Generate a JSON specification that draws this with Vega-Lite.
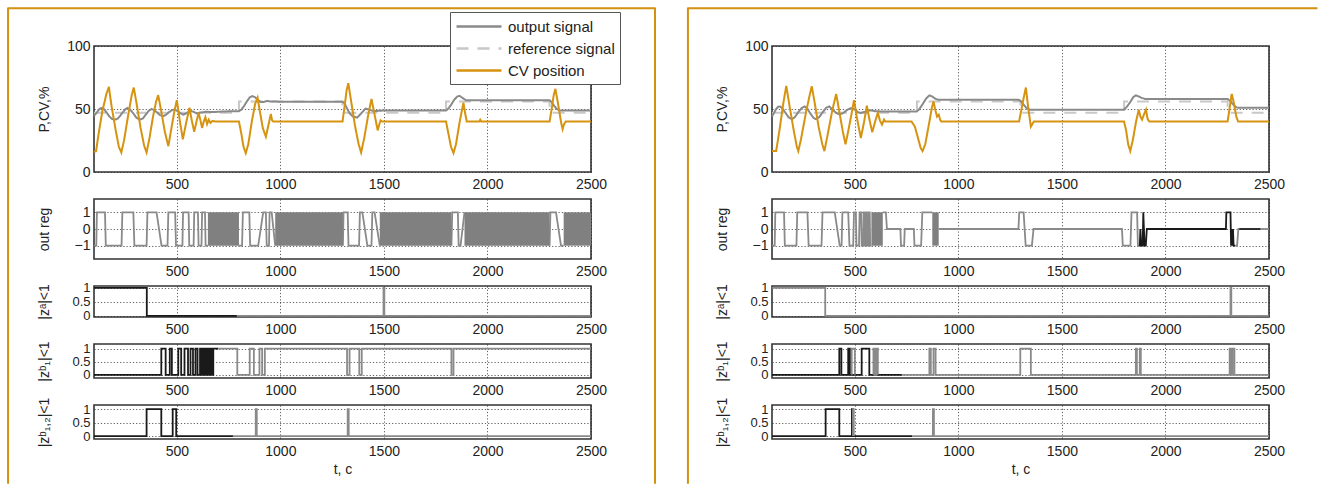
{
"$schema":"https://vega.github.io/schema/vega-lite/v6.json",
"padding":{"left":6,"top":6,"right":0,"bottom":0},
"background":"white",
"bounds":"flush",
"align":"each",
"columns":2,
"spacing":{"row":27,"column":181},
"resolve":{"scale":{"color":"independent","strokeDash":"independent"}},
"config":{
 "font":"Liberation Sans",
 "view":{"stroke":"#333333","strokeWidth":1.6},
 "axis":{"labelFont":"Liberation Sans","labelFontSize":14,"labelColor":"#222222","titleFont":"Liberation Sans","titleFontSize":14,"titleFontWeight":"normal","titleColor":"#222222","ticks":false,"domain":false,"grid":true,"gridColor":"#222222","gridDash":[1.2,2],"gridWidth":0.8,"gridOpacity":0.9,"labelOverlap":false},
 "axisX":{"labelPadding":5,"titlePadding":4,"labelFlush":false,"format":"d"},
 "axisY":{"labelPadding":4,"titlePadding":13,"minExtent":30,"maxExtent":30}
},
"datasets":{
"topL":[
{"s":"reference signal","t":100,"v":47},{"s":"reference signal","t":800,"v":47},{"s":"reference signal","t":800,"v":56},{"s":"reference signal","t":1300,"v":56},{"s":"reference signal","t":1300,"v":47},{"s":"reference signal","t":1800,"v":47},{"s":"reference signal","t":1800,"v":56},{"s":"reference signal","t":2300,"v":56},{"s":"reference signal","t":2300,"v":47},{"s":"reference signal","t":2500,"v":47},
{"s":"output signal","t":100,"v":44.5},{"s":"output signal","t":115,"v":47.5},{"s":"output signal","t":125,"v":49.8},{"s":"output signal","t":135,"v":50.8},{"s":"output signal","t":148,"v":50},{"s":"output signal","t":160,"v":47.5},{"s":"output signal","t":172,"v":44.5},{"s":"output signal","t":186,"v":42.2},{"s":"output signal","t":200,"v":41.5},{"s":"output signal","t":214,"v":42.3},{"s":"output signal","t":228,"v":45},{"s":"output signal","t":242,"v":48},{"s":"output signal","t":252,"v":50},{"s":"output signal","t":261,"v":50.8},{"s":"output signal","t":275,"v":49.5},{"s":"output signal","t":290,"v":46.5},{"s":"output signal","t":305,"v":43},{"s":"output signal","t":321,"v":41.5},{"s":"output signal","t":336,"v":42.5},{"s":"output signal","t":350,"v":45.5},{"s":"output signal","t":364,"v":48.5},{"s":"output signal","t":378,"v":50},{"s":"output signal","t":392,"v":49},{"s":"output signal","t":406,"v":47},{"s":"output signal","t":420,"v":45},{"s":"output signal","t":435,"v":44.3},{"s":"output signal","t":448,"v":45.5},{"s":"output signal","t":462,"v":47.5},{"s":"output signal","t":478,"v":49.2},{"s":"output signal","t":492,"v":49.5},{"s":"output signal","t":505,"v":48.2},{"s":"output signal","t":518,"v":46.5},{"s":"output signal","t":532,"v":45.5},{"s":"output signal","t":548,"v":46.8},{"s":"output signal","t":565,"v":48.5},{"s":"output signal","t":580,"v":47.8},{"s":"output signal","t":597,"v":46.5},{"s":"output signal","t":615,"v":47.2},{"s":"output signal","t":640,"v":47.8},{"s":"output signal","t":680,"v":47.6},{"s":"output signal","t":720,"v":48},{"s":"output signal","t":760,"v":48.2},{"s":"output signal","t":800,"v":48.3},{"s":"output signal","t":812,"v":49.5},{"s":"output signal","t":825,"v":52.5},{"s":"output signal","t":840,"v":56.5},{"s":"output signal","t":852,"v":59.2},{"s":"output signal","t":865,"v":60.2},{"s":"output signal","t":878,"v":59.3},{"s":"output signal","t":892,"v":57},{"s":"output signal","t":906,"v":55.5},{"s":"output signal","t":920,"v":55.6},{"s":"output signal","t":935,"v":56.4},{"s":"output signal","t":950,"v":56},{"s":"output signal","t":1000,"v":55.8},{"s":"output signal","t":1300,"v":55.8},{"s":"output signal","t":1310,"v":54.5},{"s":"output signal","t":1323,"v":50},{"s":"output signal","t":1335,"v":46.5},{"s":"output signal","t":1350,"v":44},{"s":"output signal","t":1371,"v":43.2},{"s":"output signal","t":1390,"v":46.5},{"s":"output signal","t":1411,"v":50.3},{"s":"output signal","t":1430,"v":49.5},{"s":"output signal","t":1452,"v":48.2},{"s":"output signal","t":1475,"v":48.6},{"s":"output signal","t":1500,"v":48.8},{"s":"output signal","t":1800,"v":48.8},{"s":"output signal","t":1812,"v":50.5},{"s":"output signal","t":1825,"v":53.5},{"s":"output signal","t":1840,"v":57.5},{"s":"output signal","t":1855,"v":60},{"s":"output signal","t":1865,"v":60.4},{"s":"output signal","t":1880,"v":58.8},{"s":"output signal","t":1897,"v":56.8},{"s":"output signal","t":1915,"v":57},{"s":"output signal","t":2300,"v":57},{"s":"output signal","t":2310,"v":55.5},{"s":"output signal","t":2322,"v":52.5},{"s":"output signal","t":2335,"v":50},{"s":"output signal","t":2348,"v":48.8},{"s":"output signal","t":2500,"v":48.8},
{"s":"CV position","t":100,"v":16},{"s":"CV position","t":110,"v":16.5},{"s":"CV position","t":122,"v":30},{"s":"CV position","t":140,"v":48},{"s":"CV position","t":160,"v":62},{"s":"CV position","t":172,"v":67.5},{"s":"CV position","t":185,"v":52},{"s":"CV position","t":205,"v":33},{"s":"CV position","t":220,"v":20},{"s":"CV position","t":232,"v":15.5},{"s":"CV position","t":245,"v":25},{"s":"CV position","t":265,"v":45},{"s":"CV position","t":282,"v":61},{"s":"CV position","t":292,"v":67},{"s":"CV position","t":305,"v":55},{"s":"CV position","t":325,"v":35},{"s":"CV position","t":342,"v":21},{"s":"CV position","t":354,"v":15.5},{"s":"CV position","t":368,"v":27},{"s":"CV position","t":385,"v":44},{"s":"CV position","t":400,"v":56},{"s":"CV position","t":410,"v":61},{"s":"CV position","t":425,"v":48},{"s":"CV position","t":442,"v":32},{"s":"CV position","t":459,"v":20.5},{"s":"CV position","t":472,"v":33},{"s":"CV position","t":488,"v":48},{"s":"CV position","t":500,"v":57},{"s":"CV position","t":515,"v":40},{"s":"CV position","t":529,"v":26},{"s":"CV position","t":545,"v":39},{"s":"CV position","t":561,"v":51},{"s":"CV position","t":572,"v":41},{"s":"CV position","t":584,"v":32},{"s":"CV position","t":595,"v":40},{"s":"CV position","t":605,"v":47},{"s":"CV position","t":614,"v":41},{"s":"CV position","t":622,"v":35},{"s":"CV position","t":630,"v":40},{"s":"CV position","t":638,"v":43.5},{"s":"CV position","t":646,"v":38},{"s":"CV position","t":654,"v":41.5},{"s":"CV position","t":662,"v":39},{"s":"CV position","t":672,"v":40.5},{"s":"CV position","t":690,"v":40},{"s":"CV position","t":800,"v":40},{"s":"CV position","t":812,"v":30},{"s":"CV position","t":822,"v":20},{"s":"CV position","t":833,"v":15},{"s":"CV position","t":845,"v":22},{"s":"CV position","t":862,"v":40},{"s":"CV position","t":878,"v":54},{"s":"CV position","t":890,"v":59},{"s":"CV position","t":900,"v":49},{"s":"CV position","t":915,"v":35},{"s":"CV position","t":930,"v":28},{"s":"CV position","t":942,"v":37},{"s":"CV position","t":954,"v":46},{"s":"CV position","t":960,"v":41},{"s":"CV position","t":966,"v":40},{"s":"CV position","t":1300,"v":40},{"s":"CV position","t":1310,"v":52},{"s":"CV position","t":1320,"v":65},{"s":"CV position","t":1328,"v":70.5},{"s":"CV position","t":1340,"v":58},{"s":"CV position","t":1360,"v":37},{"s":"CV position","t":1378,"v":22},{"s":"CV position","t":1390,"v":15.5},{"s":"CV position","t":1405,"v":27},{"s":"CV position","t":1425,"v":46},{"s":"CV position","t":1440,"v":58},{"s":"CV position","t":1452,"v":48},{"s":"CV position","t":1470,"v":33},{"s":"CV position","t":1478,"v":38},{"s":"CV position","t":1484,"v":41},{"s":"CV position","t":1492,"v":40},{"s":"CV position","t":1800,"v":40},{"s":"CV position","t":1812,"v":30},{"s":"CV position","t":1824,"v":20},{"s":"CV position","t":1836,"v":15},{"s":"CV position","t":1848,"v":22},{"s":"CV position","t":1866,"v":40},{"s":"CV position","t":1884,"v":55},{"s":"CV position","t":1893,"v":46},{"s":"CV position","t":1900,"v":40},{"s":"CV position","t":1960,"v":40},{"s":"CV position","t":1965,"v":41.5},{"s":"CV position","t":1970,"v":40},{"s":"CV position","t":2300,"v":40},{"s":"CV position","t":2310,"v":50},{"s":"CV position","t":2320,"v":61},{"s":"CV position","t":2328,"v":66},{"s":"CV position","t":2340,"v":55},{"s":"CV position","t":2356,"v":39},{"s":"CV position","t":2363,"v":34},{"s":"CV position","t":2370,"v":38},{"s":"CV position","t":2378,"v":40},{"s":"CV position","t":2500,"v":40}
],
"topR":[
{"s":"reference signal","t":100,"v":47},{"s":"reference signal","t":800,"v":47},{"s":"reference signal","t":800,"v":56},{"s":"reference signal","t":1300,"v":56},{"s":"reference signal","t":1300,"v":47},{"s":"reference signal","t":1800,"v":47},{"s":"reference signal","t":1800,"v":56},{"s":"reference signal","t":2300,"v":56},{"s":"reference signal","t":2300,"v":47},{"s":"reference signal","t":2500,"v":47},
{"s":"output signal","t":100,"v":44},{"s":"output signal","t":110,"v":47},{"s":"output signal","t":120,"v":50},{"s":"output signal","t":130,"v":51.8},{"s":"output signal","t":139,"v":52},{"s":"output signal","t":150,"v":50.5},{"s":"output signal","t":165,"v":47},{"s":"output signal","t":180,"v":43.5},{"s":"output signal","t":196,"v":42},{"s":"output signal","t":210,"v":43.5},{"s":"output signal","t":225,"v":47},{"s":"output signal","t":242,"v":50.5},{"s":"output signal","t":257,"v":52},{"s":"output signal","t":270,"v":50.5},{"s":"output signal","t":285,"v":46.5},{"s":"output signal","t":300,"v":43},{"s":"output signal","t":312,"v":42},{"s":"output signal","t":328,"v":43.5},{"s":"output signal","t":345,"v":47.5},{"s":"output signal","t":362,"v":51},{"s":"output signal","t":376,"v":52},{"s":"output signal","t":390,"v":50},{"s":"output signal","t":405,"v":47.5},{"s":"output signal","t":427,"v":45.5},{"s":"output signal","t":445,"v":47},{"s":"output signal","t":465,"v":49.5},{"s":"output signal","t":482,"v":50.8},{"s":"output signal","t":500,"v":49.5},{"s":"output signal","t":515,"v":47.5},{"s":"output signal","t":529,"v":46.8},{"s":"output signal","t":550,"v":47.8},{"s":"output signal","t":574,"v":49},{"s":"output signal","t":600,"v":48.2},{"s":"output signal","t":650,"v":48},{"s":"output signal","t":799,"v":48},{"s":"output signal","t":812,"v":50},{"s":"output signal","t":828,"v":54},{"s":"output signal","t":845,"v":58.5},{"s":"output signal","t":860,"v":60.8},{"s":"output signal","t":875,"v":59.8},{"s":"output signal","t":890,"v":58},{"s":"output signal","t":901,"v":57.4},{"s":"output signal","t":950,"v":57.4},{"s":"output signal","t":1289,"v":57.4},{"s":"output signal","t":1300,"v":56.5},{"s":"output signal","t":1315,"v":53.5},{"s":"output signal","t":1330,"v":50.5},{"s":"output signal","t":1345,"v":49.5},{"s":"output signal","t":1800,"v":49.5},{"s":"output signal","t":1812,"v":51.5},{"s":"output signal","t":1828,"v":55},{"s":"output signal","t":1845,"v":59.5},{"s":"output signal","t":1857,"v":60.8},{"s":"output signal","t":1870,"v":60},{"s":"output signal","t":1885,"v":58.8},{"s":"output signal","t":1902,"v":58},{"s":"output signal","t":2300,"v":58},{"s":"output signal","t":2312,"v":56.5},{"s":"output signal","t":2325,"v":54},{"s":"output signal","t":2340,"v":51.5},{"s":"output signal","t":2351,"v":51},{"s":"output signal","t":2500,"v":51},
{"s":"CV position","t":100,"v":16.6},{"s":"CV position","t":120,"v":16.6},{"s":"CV position","t":135,"v":32},{"s":"CV position","t":155,"v":55},{"s":"CV position","t":169,"v":68.4},{"s":"CV position","t":185,"v":52},{"s":"CV position","t":205,"v":33},{"s":"CV position","t":220,"v":20},{"s":"CV position","t":227,"v":16.6},{"s":"CV position","t":240,"v":26},{"s":"CV position","t":265,"v":48},{"s":"CV position","t":282,"v":61},{"s":"CV position","t":292,"v":68},{"s":"CV position","t":305,"v":56},{"s":"CV position","t":325,"v":36},{"s":"CV position","t":343,"v":22},{"s":"CV position","t":353,"v":16.6},{"s":"CV position","t":368,"v":29},{"s":"CV position","t":390,"v":48},{"s":"CV position","t":410,"v":62},{"s":"CV position","t":425,"v":48},{"s":"CV position","t":442,"v":32},{"s":"CV position","t":455,"v":22},{"s":"CV position","t":470,"v":34},{"s":"CV position","t":485,"v":47},{"s":"CV position","t":496,"v":57},{"s":"CV position","t":510,"v":43},{"s":"CV position","t":529,"v":27},{"s":"CV position","t":545,"v":40},{"s":"CV position","t":558,"v":52.6},{"s":"CV position","t":570,"v":42},{"s":"CV position","t":584,"v":31.6},{"s":"CV position","t":598,"v":40},{"s":"CV position","t":611,"v":47},{"s":"CV position","t":621,"v":41},{"s":"CV position","t":631,"v":37.6},{"s":"CV position","t":641,"v":41.6},{"s":"CV position","t":648,"v":40},{"s":"CV position","t":774,"v":40},{"s":"CV position","t":790,"v":36},{"s":"CV position","t":805,"v":27},{"s":"CV position","t":818,"v":19},{"s":"CV position","t":827,"v":16.6},{"s":"CV position","t":840,"v":22},{"s":"CV position","t":858,"v":38},{"s":"CV position","t":872,"v":51},{"s":"CV position","t":880,"v":56},{"s":"CV position","t":889,"v":49},{"s":"CV position","t":897,"v":44},{"s":"CV position","t":905,"v":45.5},{"s":"CV position","t":912,"v":41.5},{"s":"CV position","t":917,"v":40},{"s":"CV position","t":1293,"v":40},{"s":"CV position","t":1305,"v":50},{"s":"CV position","t":1318,"v":61},{"s":"CV position","t":1326,"v":67},{"s":"CV position","t":1338,"v":50},{"s":"CV position","t":1350,"v":36},{"s":"CV position","t":1357,"v":38},{"s":"CV position","t":1364,"v":40},{"s":"CV position","t":1800,"v":40},{"s":"CV position","t":1810,"v":33},{"s":"CV position","t":1820,"v":22},{"s":"CV position","t":1830,"v":16.6},{"s":"CV position","t":1842,"v":25},{"s":"CV position","t":1858,"v":40},{"s":"CV position","t":1871,"v":49.5},{"s":"CV position","t":1879,"v":44},{"s":"CV position","t":1887,"v":41.6},{"s":"CV position","t":1897,"v":46},{"s":"CV position","t":1906,"v":49.5},{"s":"CV position","t":1914,"v":42},{"s":"CV position","t":1922,"v":40},{"s":"CV position","t":2300,"v":40},{"s":"CV position","t":2310,"v":51},{"s":"CV position","t":2320,"v":62},{"s":"CV position","t":2330,"v":55},{"s":"CV position","t":2342,"v":44},{"s":"CV position","t":2351,"v":40},{"s":"CV position","t":2500,"v":40}
],
"frameL":[{"t":-315,"v":-247.5},{"t":-315,"v":129.9},{"t":2809,"v":129.9},{"t":2809,"v":-247.5}],
"frameR":[{"t":-306,"v":-247.5},{"t":-306,"v":129.9},{"t":2734,"v":129.9}],
"denseL":[{"t0":650,"t1":800},{"t0":975,"t1":1302},{"t0":1480,"t1":1826},{"t0":1889,"t1":2300},{"t0":2368,"t1":2500}],
"denseR":[{"t0":580,"t1":635},{"t0":874,"t1":905}],
"outL":[
{"g":1,"k":"b","t":100,"v":-1},{"g":1,"k":"b","t":111,"v":-1},{"g":1,"k":"b","t":114,"v":1},{"g":1,"k":"b","t":153,"v":1},{"g":1,"k":"b","t":157,"v":-1},{"g":1,"k":"b","t":233,"v":-1},{"g":1,"k":"b","t":237,"v":1},{"g":1,"k":"b","t":290,"v":1},{"g":1,"k":"b","t":295,"v":-1},{"g":1,"k":"b","t":354,"v":-1},{"g":1,"k":"b","t":358,"v":1},{"g":1,"k":"b","t":402,"v":1},{"g":1,"k":"b","t":426,"v":-1},{"g":1,"k":"b","t":455,"v":-1},{"g":1,"k":"b","t":459,"v":1},{"g":1,"k":"b","t":492,"v":1},{"g":1,"k":"b","t":496,"v":-1},{"g":1,"k":"b","t":527,"v":-1},{"g":1,"k":"b","t":530,"v":1},{"g":1,"k":"b","t":557,"v":1},{"g":1,"k":"b","t":560,"v":-1},{"g":1,"k":"b","t":581,"v":-1},{"g":1,"k":"b","t":584,"v":1},{"g":1,"k":"b","t":602,"v":1},{"g":1,"k":"b","t":605,"v":-1},{"g":1,"k":"b","t":619,"v":-1},{"g":1,"k":"b","t":622,"v":1},{"g":1,"k":"b","t":636,"v":1},{"g":1,"k":"b","t":639,"v":-1},{"g":1,"k":"b","t":650,"v":-1},
{"g":2,"k":"b","t":800,"v":-1},{"g":2,"k":"b","t":815,"v":-1},{"g":2,"k":"b","t":819,"v":1},{"g":2,"k":"b","t":850,"v":1},{"g":2,"k":"b","t":854,"v":-1},{"g":2,"k":"b","t":893,"v":-1},{"g":2,"k":"b","t":917,"v":1},{"g":2,"k":"b","t":930,"v":1},{"g":2,"k":"b","t":934,"v":-1},{"g":2,"k":"b","t":945,"v":-1},{"g":2,"k":"b","t":948,"v":1},{"g":2,"k":"b","t":958,"v":1},{"g":2,"k":"b","t":975,"v":-1},
{"g":3,"k":"b","t":1302,"v":-1},{"g":3,"k":"b","t":1305,"v":1},{"g":3,"k":"b","t":1325,"v":1},{"g":3,"k":"b","t":1329,"v":-1},{"g":3,"k":"b","t":1380,"v":-1},{"g":3,"k":"b","t":1384,"v":1},{"g":3,"k":"b","t":1396,"v":1},{"g":3,"k":"b","t":1420,"v":-1},{"g":3,"k":"b","t":1440,"v":-1},{"g":3,"k":"b","t":1444,"v":1},{"g":3,"k":"b","t":1455,"v":1},{"g":3,"k":"b","t":1480,"v":-1},
{"g":4,"k":"b","t":1826,"v":-1},{"g":4,"k":"b","t":1830,"v":1},{"g":4,"k":"b","t":1857,"v":1},{"g":4,"k":"b","t":1861,"v":-1},{"g":4,"k":"b","t":1870,"v":-1},{"g":4,"k":"b","t":1889,"v":1},
{"g":5,"k":"b","t":2300,"v":-1},{"g":5,"k":"b","t":2304,"v":1},{"g":5,"k":"b","t":2331,"v":1},{"g":5,"k":"b","t":2355,"v":-1},{"g":5,"k":"b","t":2368,"v":-1}
],
"outR":[
{"g":1,"k":"b","t":100,"v":-1},{"g":1,"k":"b","t":113,"v":-1},{"g":1,"k":"b","t":116,"v":1},{"g":1,"k":"b","t":158,"v":1},{"g":1,"k":"b","t":162,"v":-1},{"g":1,"k":"b","t":218,"v":-1},{"g":1,"k":"b","t":222,"v":1},{"g":1,"k":"b","t":271,"v":1},{"g":1,"k":"b","t":277,"v":-1},{"g":1,"k":"b","t":339,"v":-1},{"g":1,"k":"b","t":344,"v":1},{"g":1,"k":"b","t":403,"v":1},{"g":1,"k":"b","t":427,"v":-1},{"g":1,"k":"b","t":436,"v":-1},{"g":1,"k":"b","t":440,"v":1},{"g":1,"k":"b","t":468,"v":1},{"g":1,"k":"b","t":474,"v":-1},{"g":1,"k":"b","t":492,"v":-1},{"g":1,"k":"b","t":496,"v":1},{"g":1,"k":"b","t":505,"v":1},{"g":1,"k":"b","t":508,"v":-1},{"g":1,"k":"b","t":520,"v":-1},{"g":1,"k":"b","t":523,"v":1},{"g":1,"k":"b","t":530,"v":1},{"g":1,"k":"b","t":533,"v":-1},{"g":1,"k":"b","t":540,"v":-1},{"g":1,"k":"b","t":542,"v":1},{"g":1,"k":"b","t":546,"v":1},{"g":1,"k":"b","t":548,"v":-1},{"g":1,"k":"b","t":553,"v":-1},{"g":1,"k":"b","t":555,"v":1},{"g":1,"k":"b","t":559,"v":1},{"g":1,"k":"b","t":561,"v":-1},{"g":1,"k":"b","t":566,"v":-1},{"g":1,"k":"b","t":568,"v":1},{"g":1,"k":"b","t":572,"v":1},{"g":1,"k":"b","t":574,"v":-1},{"g":1,"k":"b","t":580,"v":-1},
{"g":2,"k":"b","t":635,"v":1},{"g":2,"k":"b","t":650,"v":1},{"g":2,"k":"b","t":655,"v":0},{"g":2,"k":"b","t":720,"v":0},{"g":2,"k":"b","t":723,"v":-1},{"g":2,"k":"b","t":738,"v":-1},{"g":2,"k":"b","t":741,"v":0},{"g":2,"k":"b","t":785,"v":0},{"g":2,"k":"b","t":788,"v":-1},{"g":2,"k":"b","t":820,"v":-1},{"g":2,"k":"b","t":826,"v":1},{"g":2,"k":"b","t":874,"v":1},
{"g":3,"k":"b","t":905,"v":0},{"g":3,"k":"b","t":1290,"v":0},{"g":3,"k":"b","t":1294,"v":1},{"g":3,"k":"b","t":1315,"v":1},{"g":3,"k":"b","t":1325,"v":-1},{"g":3,"k":"b","t":1355,"v":-1},{"g":3,"k":"b","t":1363,"v":0},{"g":3,"k":"b","t":1790,"v":0},{"g":3,"k":"b","t":1794,"v":-1},{"g":3,"k":"b","t":1831,"v":-1},{"g":3,"k":"b","t":1836,"v":1},{"g":3,"k":"b","t":1863,"v":1},{"g":3,"k":"b","t":1867,"v":-1},{"g":3,"k":"b","t":1871,"v":-1},
{"g":4,"k":"a","t":1871,"v":-1},{"g":4,"k":"a","t":1876,"v":-1},{"g":4,"k":"a","t":1879,"v":0},{"g":4,"k":"a","t":1883,"v":-1},{"g":4,"k":"a","t":1890,"v":-1},{"g":4,"k":"a","t":1893,"v":1},{"g":4,"k":"a","t":1896,"v":0},{"g":4,"k":"a","t":1899,"v":-1},{"g":4,"k":"a","t":1905,"v":-1},{"g":4,"k":"a","t":1910,"v":0},{"g":4,"k":"a","t":2292,"v":0},{"g":4,"k":"a","t":2294,"v":1},{"g":4,"k":"a","t":2314,"v":1},{"g":4,"k":"a","t":2317,"v":-1},{"g":4,"k":"a","t":2320,"v":0},{"g":4,"k":"a","t":2323,"v":-1},{"g":4,"k":"a","t":2326,"v":0},{"g":4,"k":"a","t":2329,"v":-1},{"g":4,"k":"a","t":2336,"v":-1},
{"g":5,"k":"b","t":2336,"v":-1},{"g":5,"k":"b","t":2346,"v":-1},{"g":5,"k":"b","t":2352,"v":0},{"g":5,"k":"b","t":2356,"v":0},
{"g":6,"k":"a","t":2356,"v":0},{"g":6,"k":"a","t":2460,"v":0},
{"g":7,"k":"b","t":2460,"v":0},{"g":7,"k":"b","t":2500,"v":0}
],
"zaL":[
{"g":1,"k":"a","t":100,"v":1},{"g":1,"k":"a","t":355,"v":1},{"g":1,"k":"a","t":355,"v":0},{"g":1,"k":"a","t":790,"v":0},
{"g":2,"k":"b","t":790,"v":0},{"g":2,"k":"b","t":1498,"v":0},{"g":2,"k":"b","t":1498,"v":1},{"g":2,"k":"b","t":1502,"v":1},{"g":2,"k":"b","t":1502,"v":0},{"g":2,"k":"b","t":2500,"v":0}
],
"zaR":[
{"g":1,"k":"b","t":100,"v":1},{"g":1,"k":"b","t":357,"v":1},{"g":1,"k":"b","t":357,"v":0},{"g":1,"k":"b","t":2314,"v":0},{"g":1,"k":"b","t":2314,"v":1},{"g":1,"k":"b","t":2318,"v":1},{"g":1,"k":"b","t":2318,"v":0},{"g":1,"k":"b","t":2500,"v":0}
],
"z1L":[
{"g":1,"k":"a","t":100,"v":0},{"g":1,"k":"a","t":425,"v":0},{"g":1,"k":"a","t":425,"v":1},{"g":1,"k":"a","t":446,"v":1},{"g":1,"k":"a","t":446,"v":0},{"g":1,"k":"a","t":466,"v":0},{"g":1,"k":"a","t":466,"v":1},{"g":1,"k":"a","t":476,"v":1},{"g":1,"k":"a","t":476,"v":0},{"g":1,"k":"a","t":507,"v":0},{"g":1,"k":"a","t":507,"v":1},{"g":1,"k":"a","t":521,"v":1},{"g":1,"k":"a","t":521,"v":0},{"g":1,"k":"a","t":537,"v":0},{"g":1,"k":"a","t":537,"v":1},{"g":1,"k":"a","t":554,"v":1},{"g":1,"k":"a","t":554,"v":0},{"g":1,"k":"a","t":566,"v":0},{"g":1,"k":"a","t":566,"v":1},{"g":1,"k":"a","t":578,"v":1},{"g":1,"k":"a","t":578,"v":0},{"g":1,"k":"a","t":590,"v":0},{"g":1,"k":"a","t":590,"v":1},{"g":1,"k":"a","t":600,"v":1},{"g":1,"k":"a","t":600,"v":0},{"g":1,"k":"a","t":612,"v":0},{"g":1,"k":"a","t":612,"v":1},{"g":1,"k":"a","t":620,"v":1},{"g":1,"k":"a","t":620,"v":0},{"g":1,"k":"a","t":626,"v":0},{"g":1,"k":"a","t":626,"v":1},{"g":1,"k":"a","t":634,"v":1},{"g":1,"k":"a","t":634,"v":0},{"g":1,"k":"a","t":640,"v":0},{"g":1,"k":"a","t":640,"v":1},{"g":1,"k":"a","t":648,"v":1},{"g":1,"k":"a","t":648,"v":0},{"g":1,"k":"a","t":653,"v":0},{"g":1,"k":"a","t":653,"v":1},{"g":1,"k":"a","t":660,"v":1},{"g":1,"k":"a","t":660,"v":0},{"g":1,"k":"a","t":665,"v":0},{"g":1,"k":"a","t":665,"v":1},{"g":1,"k":"a","t":672,"v":1},{"g":1,"k":"a","t":672,"v":0},{"g":1,"k":"a","t":676,"v":0},{"g":1,"k":"a","t":676,"v":1},{"g":1,"k":"a","t":700,"v":1},
{"g":2,"k":"b","t":700,"v":1},{"g":2,"k":"b","t":792,"v":1},{"g":2,"k":"b","t":792,"v":0},{"g":2,"k":"b","t":852,"v":0},{"g":2,"k":"b","t":852,"v":1},{"g":2,"k":"b","t":872,"v":1},{"g":2,"k":"b","t":872,"v":0},{"g":2,"k":"b","t":899,"v":0},{"g":2,"k":"b","t":899,"v":1},{"g":2,"k":"b","t":912,"v":1},{"g":2,"k":"b","t":912,"v":0},{"g":2,"k":"b","t":925,"v":0},{"g":2,"k":"b","t":925,"v":1},{"g":2,"k":"b","t":1322,"v":1},{"g":2,"k":"b","t":1322,"v":0},{"g":2,"k":"b","t":1334,"v":0},{"g":2,"k":"b","t":1334,"v":1},{"g":2,"k":"b","t":1381,"v":1},{"g":2,"k":"b","t":1381,"v":0},{"g":2,"k":"b","t":1393,"v":0},{"g":2,"k":"b","t":1393,"v":1},{"g":2,"k":"b","t":1826,"v":1},{"g":2,"k":"b","t":1826,"v":0},{"g":2,"k":"b","t":1836,"v":0},{"g":2,"k":"b","t":1836,"v":1},{"g":2,"k":"b","t":2500,"v":1}
],
"z1R":[
{"g":1,"k":"a","t":100,"v":0},{"g":1,"k":"a","t":425,"v":0},{"g":1,"k":"a","t":425,"v":1},{"g":1,"k":"a","t":435,"v":1},{"g":1,"k":"a","t":435,"v":0},{"g":1,"k":"a","t":468,"v":0},{"g":1,"k":"a","t":468,"v":1},{"g":1,"k":"a","t":476,"v":1},{"g":1,"k":"a","t":476,"v":0},{"g":1,"k":"a","t":533,"v":0},{"g":1,"k":"a","t":533,"v":1},{"g":1,"k":"a","t":570,"v":1},{"g":1,"k":"a","t":570,"v":0},{"g":1,"k":"a","t":727,"v":0},
{"g":2,"k":"b","t":485,"v":0},{"g":2,"k":"b","t":485,"v":1},{"g":2,"k":"b","t":500,"v":1},{"g":2,"k":"b","t":500,"v":0},
{"g":3,"k":"b","t":590,"v":0},{"g":3,"k":"b","t":590,"v":1},{"g":3,"k":"b","t":597,"v":1},{"g":3,"k":"b","t":597,"v":0},{"g":3,"k":"b","t":603,"v":0},{"g":3,"k":"b","t":603,"v":1},{"g":3,"k":"b","t":611,"v":1},{"g":3,"k":"b","t":611,"v":0},
{"g":4,"k":"b","t":727,"v":0},{"g":4,"k":"b","t":860,"v":0},{"g":4,"k":"b","t":860,"v":1},{"g":4,"k":"b","t":867,"v":1},{"g":4,"k":"b","t":867,"v":0},{"g":4,"k":"b","t":880,"v":0},{"g":4,"k":"b","t":880,"v":1},{"g":4,"k":"b","t":890,"v":1},{"g":4,"k":"b","t":890,"v":0},{"g":4,"k":"b","t":1299,"v":0},{"g":4,"k":"b","t":1299,"v":1},{"g":4,"k":"b","t":1350,"v":1},{"g":4,"k":"b","t":1350,"v":0},{"g":4,"k":"b","t":1857,"v":0},{"g":4,"k":"b","t":1857,"v":1},{"g":4,"k":"b","t":1862,"v":1},{"g":4,"k":"b","t":1862,"v":0},{"g":4,"k":"b","t":1876,"v":0},{"g":4,"k":"b","t":1876,"v":1},{"g":4,"k":"b","t":1881,"v":1},{"g":4,"k":"b","t":1881,"v":0},{"g":4,"k":"b","t":2310,"v":0},{"g":4,"k":"b","t":2310,"v":1},{"g":4,"k":"b","t":2318,"v":1},{"g":4,"k":"b","t":2318,"v":0},{"g":4,"k":"b","t":2324,"v":0},{"g":4,"k":"b","t":2324,"v":1},{"g":4,"k":"b","t":2333,"v":1},{"g":4,"k":"b","t":2333,"v":0},{"g":4,"k":"b","t":2500,"v":0}
],
"z12L":[
{"g":1,"k":"a","t":100,"v":0},{"g":1,"k":"a","t":354,"v":0},{"g":1,"k":"a","t":354,"v":1},{"g":1,"k":"a","t":425,"v":1},{"g":1,"k":"a","t":425,"v":0},{"g":1,"k":"a","t":480,"v":0},{"g":1,"k":"a","t":480,"v":1},{"g":1,"k":"a","t":497,"v":1},{"g":1,"k":"a","t":497,"v":0},{"g":1,"k":"a","t":771,"v":0},
{"g":2,"k":"b","t":771,"v":0},{"g":2,"k":"b","t":881,"v":0},{"g":2,"k":"b","t":881,"v":1},{"g":2,"k":"b","t":886,"v":1},{"g":2,"k":"b","t":886,"v":0},{"g":2,"k":"b","t":1325,"v":0},{"g":2,"k":"b","t":1325,"v":1},{"g":2,"k":"b","t":1330,"v":1},{"g":2,"k":"b","t":1330,"v":0},{"g":2,"k":"b","t":2500,"v":0}
],
"z12R":[
{"g":1,"k":"a","t":100,"v":0},{"g":1,"k":"a","t":359,"v":0},{"g":1,"k":"a","t":359,"v":1},{"g":1,"k":"a","t":425,"v":1},{"g":1,"k":"a","t":425,"v":0},{"g":1,"k":"a","t":486,"v":0},{"g":1,"k":"a","t":486,"v":1},{"g":1,"k":"a","t":491,"v":1},{"g":1,"k":"a","t":491,"v":0},{"g":1,"k":"a","t":778,"v":0},
{"g":2,"k":"b","t":491,"v":0},{"g":2,"k":"b","t":491,"v":1},{"g":2,"k":"b","t":495,"v":1},{"g":2,"k":"b","t":495,"v":0},
{"g":3,"k":"b","t":778,"v":0},{"g":3,"k":"b","t":877,"v":0},{"g":3,"k":"b","t":877,"v":1},{"g":3,"k":"b","t":882,"v":1},{"g":3,"k":"b","t":882,"v":0},{"g":3,"k":"b","t":2500,"v":0}
]
},
"concat":[
{"width":497,"height":126,"layer":[
 {"data":{"name":"topL"},"mark":{"type":"line","strokeWidth":2},
  "encoding":{
   "x":{"field":"t","type":"quantitative","scale":{"domain":[100,2500],"nice":false,"zero":false},"axis":{"values":[500,1000,1500,2000,2500],"title":null}},
   "y":{"field":"v","type":"quantitative","scale":{"domain":[0,100],"nice":false,"zero":false},"axis":{"values":[0,50,100],"title":"P,CV,%","format":"d"}},
   "color":{"field":"s","type":"nominal","scale":{"domain":["output signal","reference signal","CV position"],"range":["#8a8a8a","#c8c8c8","#d6930f"]},"legend":{"orient":"none","legendX":356,"legendY":-34,"title":null,"symbolType":"M-1,0H4.625","symbolSize":256,"symbolStrokeWidth":2.5,"labelFont":"Liberation Sans","labelFontSize":15,"labelColor":"#222222","labelOffset":34,"rowPadding":4,"padding":5,"strokeColor":"#555555","fillColor":"#ffffff"}},
   "strokeDash":{"field":"s","type":"nominal","scale":{"domain":["output signal","reference signal","CV position"],"range":[[1,0],[12,9],[1,0]]},"legend":{"orient":"none","legendX":356,"legendY":-34,"title":null,"symbolType":"M-1,0H4.625","symbolSize":256,"symbolStrokeWidth":2.5,"labelFont":"Liberation Sans","labelFontSize":15,"labelColor":"#222222","labelOffset":34,"rowPadding":4,"padding":5,"strokeColor":"#555555","fillColor":"#ffffff"}}
  }},
 {"data":{"name":"frameL"},"mark":{"type":"line","color":"#d4900f","strokeWidth":2,"strokeJoin":"round","clip":false},
  "encoding":{
   "x":{"field":"t","type":"quantitative","scale":{"domain":[100,2500],"nice":false,"zero":false},"axis":{"values":[500,1000,1500,2000,2500],"title":null}},
   "y":{"field":"v","type":"quantitative","scale":{"domain":[0,100],"nice":false,"zero":false},"axis":{"values":[0,50,100],"title":"P,CV,%","format":"d"}}
  }}
]},
{"width":497,"height":126,"layer":[
 {"data":{"name":"topR"},"mark":{"type":"line","strokeWidth":2},
  "encoding":{
   "x":{"field":"t","type":"quantitative","scale":{"domain":[100,2500],"nice":false,"zero":false},"axis":{"values":[500,1000,1500,2000,2500],"title":null}},
   "y":{"field":"v","type":"quantitative","scale":{"domain":[0,100],"nice":false,"zero":false},"axis":{"values":[0,50,100],"title":"P,CV,%","format":"d"}},
   "color":{"field":"s","type":"nominal","scale":{"domain":["output signal","reference signal","CV position"],"range":["#8a8a8a","#c8c8c8","#d6930f"]},"legend":null},
   "strokeDash":{"field":"s","type":"nominal","scale":{"domain":["output signal","reference signal","CV position"],"range":[[1,0],[12,9],[1,0]]},"legend":null}
  }},
 {"data":{"name":"frameR"},"mark":{"type":"line","color":"#d4900f","strokeWidth":2,"strokeJoin":"round","clip":false},
  "encoding":{
   "x":{"field":"t","type":"quantitative","scale":{"domain":[100,2500],"nice":false,"zero":false},"axis":{"values":[500,1000,1500,2000,2500],"title":null}},
   "y":{"field":"v","type":"quantitative","scale":{"domain":[0,100],"nice":false,"zero":false},"axis":{"values":[0,50,100],"title":"P,CV,%","format":"d"}}
  }}
]},
{"width":497,"height":60,"layer":[
 {"data":{"name":"outL"},"mark":{"type":"line","strokeWidth":1.8},
  "encoding":{
   "x":{"field":"t","type":"quantitative","scale":{"domain":[100,2500],"nice":false,"zero":false},"axis":{"values":[500,1000,1500,2000,2500],"title":null}},
   "y":{"field":"v","type":"quantitative","scale":{"domain":[-1.8,1.8],"nice":false,"zero":false},"axis":{"values":[-1,0,1],"title":"out reg","format":"d"}},
   "detail":{"field":"g"},
   "color":{"field":"k","type":"nominal","scale":{"domain":["a","b"],"range":["#1a1a1a","#8a8a8a"]},"legend":null}
  }},
 {"data":{"name":"denseL"},"mark":{"type":"rect","color":"#808080"},
  "encoding":{
   "x":{"field":"t0","type":"quantitative","scale":{"domain":[100,2500],"nice":false,"zero":false},"axis":{"values":[500,1000,1500,2000,2500],"title":null}},
   "x2":{"field":"t1"},
   "y":{"datum":-1,"type":"quantitative","scale":{"domain":[-1.8,1.8],"nice":false,"zero":false},"axis":{"values":[-1,0,1],"title":"out reg","format":"d"}},
   "y2":{"datum":1}
  }}
]},
{"width":497,"height":60,"layer":[
 {"data":{"name":"outR"},"mark":{"type":"line","strokeWidth":1.8},
  "encoding":{
   "x":{"field":"t","type":"quantitative","scale":{"domain":[100,2500],"nice":false,"zero":false},"axis":{"values":[500,1000,1500,2000,2500],"title":null}},
   "y":{"field":"v","type":"quantitative","scale":{"domain":[-1.8,1.8],"nice":false,"zero":false},"axis":{"values":[-1,0,1],"title":"out reg","format":"d"}},
   "detail":{"field":"g"},
   "color":{"field":"k","type":"nominal","scale":{"domain":["a","b"],"range":["#1a1a1a","#8a8a8a"]},"legend":null}
  }},
 {"data":{"name":"denseR"},"mark":{"type":"rect","color":"#808080"},
  "encoding":{
   "x":{"field":"t0","type":"quantitative","scale":{"domain":[100,2500],"nice":false,"zero":false},"axis":{"values":[500,1000,1500,2000,2500],"title":null}},
   "x2":{"field":"t1"},
   "y":{"datum":-1,"type":"quantitative","scale":{"domain":[-1.8,1.8],"nice":false,"zero":false},"axis":{"values":[-1,0,1],"title":"out reg","format":"d"}},
   "y2":{"datum":1}
  }}
]},
{"width":497,"height":31,"data":{"name":"zaL"},"mark":{"type":"line","strokeWidth":1.8},
 "encoding":{
  "x":{"field":"t","type":"quantitative","scale":{"domain":[100,2500],"nice":false,"zero":false},"axis":{"values":[500,1000,1500,2000,2500],"title":null}},
  "y":{"field":"v","type":"quantitative","scale":{"domain":[-0.04,1.07],"nice":false,"zero":false},"axis":{"values":[0,0.5,1],"title":"|zᵃ|<1","format":"~g","labelFontSize":13}},
  "detail":{"field":"g"},
  "color":{"field":"k","type":"nominal","scale":{"domain":["a","b"],"range":["#1a1a1a","#8a8a8a"]},"legend":null}
 }},
{"width":497,"height":31,"data":{"name":"zaR"},"mark":{"type":"line","strokeWidth":1.8},
 "encoding":{
  "x":{"field":"t","type":"quantitative","scale":{"domain":[100,2500],"nice":false,"zero":false},"axis":{"values":[500,1000,1500,2000,2500],"title":null}},
  "y":{"field":"v","type":"quantitative","scale":{"domain":[-0.04,1.07],"nice":false,"zero":false},"axis":{"values":[0,0.5,1],"title":"|zᵃ|<1","format":"~g","labelFontSize":13}},
  "detail":{"field":"g"},
  "color":{"field":"k","type":"nominal","scale":{"domain":["a","b"],"range":["#1a1a1a","#8a8a8a"]},"legend":null}
 }},
{"width":497,"height":34,"data":{"name":"z1L"},"mark":{"type":"line","strokeWidth":1.8},
 "encoding":{
  "x":{"field":"t","type":"quantitative","scale":{"domain":[100,2500],"nice":false,"zero":false},"axis":{"values":[500,1000,1500,2000,2500],"title":null}},
  "y":{"field":"v","type":"quantitative","scale":{"domain":[-0.12,1.18],"nice":false,"zero":false},"axis":{"values":[0,0.5,1],"title":"|zᵇ₁|<1","format":"~g","labelFontSize":13}},
  "detail":{"field":"g"},
  "color":{"field":"k","type":"nominal","scale":{"domain":["a","b"],"range":["#1a1a1a","#8a8a8a"]},"legend":null}
 }},
{"width":497,"height":34,"data":{"name":"z1R"},"mark":{"type":"line","strokeWidth":1.8},
 "encoding":{
  "x":{"field":"t","type":"quantitative","scale":{"domain":[100,2500],"nice":false,"zero":false},"axis":{"values":[500,1000,1500,2000,2500],"title":null}},
  "y":{"field":"v","type":"quantitative","scale":{"domain":[-0.12,1.18],"nice":false,"zero":false},"axis":{"values":[0,0.5,1],"title":"|zᵇ₁|<1","format":"~g","labelFontSize":13}},
  "detail":{"field":"g"},
  "color":{"field":"k","type":"nominal","scale":{"domain":["a","b"],"range":["#1a1a1a","#8a8a8a"]},"legend":null}
 }},
{"width":497,"height":34,"data":{"name":"z12L"},"mark":{"type":"line","strokeWidth":1.8},
 "encoding":{
  "x":{"field":"t","type":"quantitative","scale":{"domain":[100,2500],"nice":false,"zero":false},"axis":{"values":[500,1000,1500,2000,2500],"title":"t, c"}},
  "y":{"field":"v","type":"quantitative","scale":{"domain":[-0.11,1.15],"nice":false,"zero":false},"axis":{"values":[0,0.5,1],"title":"|zᵇ₁,₂|<1","format":"~g","labelFontSize":13}},
  "detail":{"field":"g"},
  "color":{"field":"k","type":"nominal","scale":{"domain":["a","b"],"range":["#1a1a1a","#8a8a8a"]},"legend":null}
 }},
{"width":497,"height":34,"data":{"name":"z12R"},"mark":{"type":"line","strokeWidth":1.8},
 "encoding":{
  "x":{"field":"t","type":"quantitative","scale":{"domain":[100,2500],"nice":false,"zero":false},"axis":{"values":[500,1000,1500,2000,2500],"title":"t, c"}},
  "y":{"field":"v","type":"quantitative","scale":{"domain":[-0.11,1.15],"nice":false,"zero":false},"axis":{"values":[0,0.5,1],"title":"|zᵇ₁,₂|<1","format":"~g","labelFontSize":13}},
  "detail":{"field":"g"},
  "color":{"field":"k","type":"nominal","scale":{"domain":["a","b"],"range":["#1a1a1a","#8a8a8a"]},"legend":null}
 }}
]
}
